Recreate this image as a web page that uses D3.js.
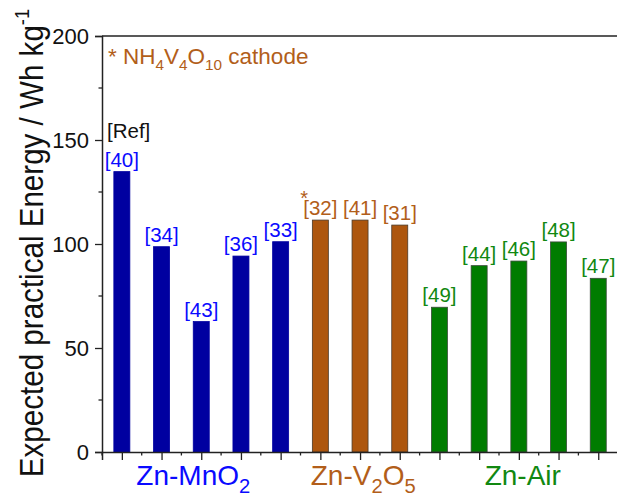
<!DOCTYPE html>
<html>
<head>
<meta charset="utf-8">
<script src="https://cdn.jsdelivr.net/npm/d3@7"></script>
<style>
  body { margin: 0; background: #fff; }
  svg { display: block; font-family: "Liberation Sans", Arial, sans-serif; }
</style>
</head>
<body>
<div id="chart"></div>
<script>
// values
const refs = ["[40]", "[34]", "[43]", "[36]", "[33]", "[32]", "[41]", "[31]", "[49]", "[44]", "[46]", "[48]", "[47]"];
const energy = [134.8, 98.7, 62.7, 94.2, 101.1, 111.5, 111.5, 109.1, 69.6, 89.6, 91.8, 101, 83.5];
const system = ["MnO2", "MnO2", "MnO2", "MnO2", "MnO2", "V2O5", "V2O5", "V2O5", "Air", "Air", "Air", "Air", "Air"];
const yTicks = [0, 50, 100, 150, 200];

const groups = [
  { key: "MnO2", at: 2.8, parts: [["Zn-MnO"], ["2", "sub"]] },
  { key: "V2O5", at: 7.08, parts: [["Zn-V"], ["2", "sub"], ["O"], ["5", "sub"]] },
  { key: "Air", at: 11.1, parts: [["Zn-Air"]] }
];

const barFill = { MnO2: "#0000a0", V2O5: "#ad560e", Air: "#007c00" };
const barStroke = { MnO2: "#0000a0", V2O5: "#4a3a2a", Air: "#3a4a3a" };
const textFill = { MnO2: "#0a0aff", V2O5: "#b25e1a", Air: "#118811" };

const width = 617;
const height = 493;

const svg = d3.select("#chart").append("svg")
  .attr("width", width)
  .attr("height", height);

const x = d3.scaleLinear().domain([0.5, 14.5]).range([102, 102 + 14 * 39.7]);
const y = d3.scaleLinear().domain([0, 200]).range([452, 36]);
const barW = 16;

// write text with sub/superscripts
function rich(sel, parts, size, subScale = 0.72) {
  let shift = 0;
  parts.forEach(([t, kind]) => {
    const ts = sel.append("tspan").text(t);
    let want = 0;
    if (kind === "sub") { ts.attr("font-size", size * subScale); want = size * 0.28; }
    if (kind === "sup") { ts.attr("font-size", size * 0.62); want = -size * 0.42; }
    if (want !== shift) ts.attr("dy", want - shift);
    shift = want;
  });
}

// bars
const idx = d3.range(energy.length);
svg.selectAll("rect.bar")
  .data(idx)
  .join("rect")
  .attr("class", "bar")
  .attr("x", (i) => x(i + 1) - barW / 2)
  .attr("y", (i) => y(energy[i]))
  .attr("width", barW)
  .attr("height", (i) => y(0) - y(energy[i]))
  .attr("fill", (i) => barFill[system[i]])
  .attr("stroke", (i) => barStroke[system[i]])
  .attr("stroke-width", 0.8);

// reference labels
svg.selectAll("text.ref")
  .data(idx)
  .join("text")
  .attr("class", "ref")
  .attr("x", (i) => x(i + 1))
  .attr("y", (i) => y(energy[i]) - 5)
  .attr("text-anchor", "middle")
  .attr("font-size", 20.5)
  .attr("fill", (i) => textFill[system[i]])
  .text((i) => refs[i]);

// axes
const yAxis = d3.axisLeft(y).tickValues(yTicks).tickSize(7).tickPadding(6);
const gy = svg.append("g").attr("transform", `translate(${x(0.5)},0)`).call(yAxis);
gy.selectAll(".tick text").attr("font-size", 22).attr("fill", "#111");
gy.selectAll("g.minor")
  .data(d3.range(25, 200, 50))
  .join("line")
  .attr("x1", -3.5).attr("x2", 0)
  .attr("y1", (d) => y(d)).attr("y2", (d) => y(d))
  .attr("stroke", "#222").attr("stroke-width", 1.3);

const xAxis = d3.axisBottom(x).tickValues(d3.range(1, 15)).tickSize(8).tickFormat("");
const gx = svg.append("g").attr("transform", `translate(0,${y(0)})`).call(xAxis);
gx.selectAll("line.minor")
  .data(d3.range(0.5, 15, 1))
  .join("line")
  .attr("class", "minor")
  .attr("x1", (d) => x(d)).attr("x2", (d) => x(d))
  .attr("y1", 0).attr("y2", 3.5)
  .attr("stroke", "#222").attr("stroke-width", 1.3);

svg.selectAll(".domain").attr("stroke", "#222").attr("stroke-width", 1.5);
svg.selectAll(".tick line").attr("stroke", "#222").attr("stroke-width", 1.3);

// top frame line
svg.append("line")
  .attr("x1", x(0.5)).attr("x2", width)
  .attr("y1", y(200)).attr("y2", y(200))
  .attr("stroke", "#222").attr("stroke-width", 1.5);

// group names under the axis
groups.forEach((g) => {
  const t = svg.append("text")
    .attr("x", x(g.at))
    .attr("y", 485)
    .attr("text-anchor", "middle")
    .attr("font-size", 28)
    .attr("fill", textFill[g.key]);
  rich(t, g.parts, 28);
});

// y title
const yt = svg.append("text")
  .attr("transform", "translate(43,243) rotate(-90) scale(0.87,1)")
  .attr("text-anchor", "middle")
  .attr("font-size", 34)
  .attr("fill", "#111");
rich(yt, [["Expected practical Energy / Wh kg"], ["-1", "sup"]], 34);

// notes
svg.append("text")
  .attr("x", 107).attr("y", 138)
  .attr("font-size", 20.5)
  .attr("fill", "#111")
  .text("[Ref]");

const note = svg.append("text")
  .attr("x", 108).attr("y", 64)
  .attr("font-size", 22.5)
  .attr("fill", textFill.V2O5);
rich(note, [["* NH"], ["4", "sub"], ["V"], ["4", "sub"], ["O"], ["10", "sub"], [" cathode"]], 22.5, 0.68);

svg.append("text")
  .attr("x", x(6) - 20).attr("y", 205)
  .attr("font-size", 20)
  .attr("fill", textFill.V2O5)
  .text("*");
</script>
</body>
</html>
